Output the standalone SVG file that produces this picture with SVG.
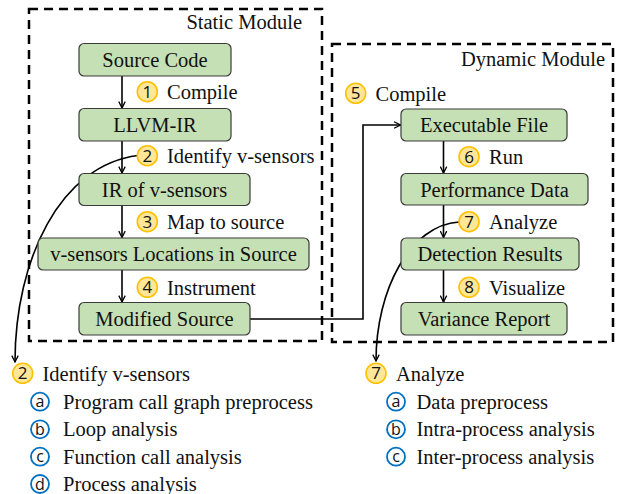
<svg xmlns="http://www.w3.org/2000/svg" width="618" height="494" viewBox="0 0 618 494">
<defs>
<style>
.mod{fill:none;stroke:#000;stroke-width:2.5;stroke-dasharray:9 6}
.box{fill:#C5E0B4;stroke:#3a3a3a;stroke-width:1.2}
.t{font-family:"Liberation Serif","Times New Roman",serif;font-size:20.5px;fill:#111}
.c{text-anchor:middle}
.r{text-anchor:end}
.yc{fill:#FFE699;stroke:#FFC000;stroke-width:1.6}
.bc{fill:#fff;stroke:#0070C0;stroke-width:1.8}
.n{font-family:"Open Sans","Liberation Sans",sans-serif;font-size:17px;fill:#111;text-anchor:middle}
.m{font-family:"Open Sans","Liberation Sans",sans-serif;font-size:16px;fill:#111;text-anchor:middle}
.ln{fill:none;stroke:#000;stroke-width:1.6}
</style>
<marker id="ah" viewBox="0 0 10 10" refX="9" refY="5" markerWidth="8" markerHeight="8" markerUnits="userSpaceOnUse" orient="auto">
<path d="M1,1 L9,5 L1,9" fill="none" stroke="#000" stroke-width="1.6"/>
</marker>
</defs>
<rect fill="#fff" x="0" y="0" width="618" height="494"/>

<g id="static-module">
<rect class="mod" x="29" y="9" width="293" height="332"/>
<text class="t r" x="302" y="29">Static Module</text>
</g>
<g id="dynamic-module">
<rect class="mod" x="332" y="44" width="281" height="298"/>
<text class="t r" x="605" y="66">Dynamic Module</text>
</g>

<g id="connectors">
<line class="ln" x1="122" y1="76" x2="122" y2="108" marker-end="url(#ah)"/>
<line class="ln" x1="122" y1="141" x2="122" y2="173" marker-end="url(#ah)"/>
<line class="ln" x1="122" y1="205.5" x2="122" y2="237.5" marker-end="url(#ah)"/>
<line class="ln" x1="122" y1="270" x2="122" y2="302" marker-end="url(#ah)"/>
<line class="ln" x1="443.5" y1="141" x2="443.5" y2="173" marker-end="url(#ah)"/>
<line class="ln" x1="443.5" y1="205" x2="443.5" y2="237.5" marker-end="url(#ah)"/>
<line class="ln" x1="443.5" y1="270" x2="443.5" y2="302" marker-end="url(#ah)"/>
<path class="ln" d="M250,319 H363 V125 H400.5" marker-end="url(#ah)"/>
<path class="ln" d="M138,155.5 C60,165 15,260 15,362" marker-end="url(#ah)"/>
<path class="ln" d="M459,222 C410,225 376,290 376,361" marker-end="url(#ah)"/>
</g>

<g id="n-source-code">
<rect class="box" x="79" y="43.5" width="152" height="32.5" rx="5"/>
<text class="t c" x="155" y="67">Source Code</text>
</g>
<g id="n-llvm-ir">
<rect class="box" x="79" y="108.5" width="152" height="32.5" rx="5"/>
<text class="t c" x="155" y="132">LLVM-IR</text>
</g>
<g id="n-ir-vsensors">
<rect class="box" x="79" y="173.5" width="171" height="32" rx="5"/>
<text class="t c" x="164.5" y="196.5">IR of v-sensors</text>
</g>
<g id="n-locations">
<rect class="box" x="38" y="238" width="271" height="32" rx="5"/>
<text class="t c" x="173.5" y="261">v-sensors Locations in Source</text>
</g>
<g id="n-modified-source">
<rect class="box" x="79" y="302.5" width="171" height="32.5" rx="5"/>
<text class="t c" x="164.5" y="326">Modified Source</text>
</g>
<g id="n-executable">
<rect class="box" x="401" y="109" width="166" height="32" rx="5"/>
<text class="t c" x="484" y="132">Executable File</text>
</g>
<g id="n-performance">
<rect class="box" x="401" y="173.5" width="187" height="31.5" rx="5"/>
<text class="t c" x="494.5" y="196.5">Performance Data</text>
</g>
<g id="n-detection">
<rect class="box" x="401" y="238" width="178" height="32" rx="5"/>
<text class="t c" x="490" y="261">Detection Results</text>
</g>
<g id="n-variance">
<rect class="box" x="401" y="302.5" width="166" height="32.5" rx="5"/>
<text class="t c" x="484" y="326">Variance Report</text>
</g>

<g id="step-1">
<circle class="yc" cx="147.3" cy="91.7" r="10"/><text class="n" x="147.3" y="97.8">1</text>
<text class="t" x="167" y="99">Compile</text>
</g>
<g id="step-2">
<circle class="yc" cx="147.3" cy="155.7" r="10"/><text class="n" x="147.3" y="161.8">2</text>
<text class="t" x="167" y="163">Identify v-sensors</text>
</g>
<g id="step-3">
<circle class="yc" cx="147.3" cy="221.7" r="10"/><text class="n" x="147.3" y="227.8">3</text>
<text class="t" x="167" y="229">Map to source</text>
</g>
<g id="step-4">
<circle class="yc" cx="147.3" cy="287.3" r="10"/><text class="n" x="147.3" y="293.4">4</text>
<text class="t" x="167" y="294.6">Instrument</text>
</g>
<g id="step-5">
<circle class="yc" cx="355.7" cy="93.3" r="10"/><text class="n" x="355.7" y="99.4">5</text>
<text class="t" x="375.5" y="100.6">Compile</text>
</g>
<g id="step-6">
<circle class="yc" cx="469" cy="156.7" r="10"/><text class="n" x="469" y="162.8">6</text>
<text class="t" x="489" y="164">Run</text>
</g>
<g id="step-7">
<circle class="yc" cx="469" cy="221.7" r="10"/><text class="n" x="469" y="227.8">7</text>
<text class="t" x="489" y="229">Analyze</text>
</g>
<g id="step-8">
<circle class="yc" cx="469" cy="287.3" r="10"/><text class="n" x="469" y="293.4">8</text>
<text class="t" x="489" y="294.6">Visualize</text>
</g>

<g id="list-identify">
<circle class="yc" cx="22.7" cy="373.3" r="10"/><text class="n" x="22.7" y="379.4">2</text>
<text class="t" x="42.5" y="380.5">Identify v-sensors</text>
<circle class="bc" cx="40" cy="401.7" r="9"/><text class="m" x="40" y="407.4">a</text>
<text class="t" x="63" y="408.8">Program call graph preprocess</text>
<circle class="bc" cx="40" cy="429.3" r="9"/><text class="m" x="40" y="435">b</text>
<text class="t" x="63" y="436.4">Loop analysis</text>
<circle class="bc" cx="40" cy="456.7" r="9"/><text class="m" x="40" y="462.4">c</text>
<text class="t" x="63" y="463.8">Function call analysis</text>
<circle class="bc" cx="40" cy="484" r="9"/><text class="m" x="40" y="489.7">d</text>
<text class="t" x="63" y="491.1">Process analysis</text>
</g>
<g id="list-analyze">
<circle class="yc" cx="376" cy="373.3" r="10"/><text class="n" x="376" y="379.4">7</text>
<text class="t" x="396" y="380.5">Analyze</text>
<circle class="bc" cx="396" cy="401.7" r="9"/><text class="m" x="396" y="407.4">a</text>
<text class="t" x="416.5" y="408.8">Data preprocess</text>
<circle class="bc" cx="396" cy="429.3" r="9"/><text class="m" x="396" y="435">b</text>
<text class="t" x="416.5" y="436.4">Intra-process analysis</text>
<circle class="bc" cx="396" cy="456.7" r="9"/><text class="m" x="396" y="462.4">c</text>
<text class="t" x="416.5" y="463.8">Inter-process analysis</text>
</g>
</svg>
